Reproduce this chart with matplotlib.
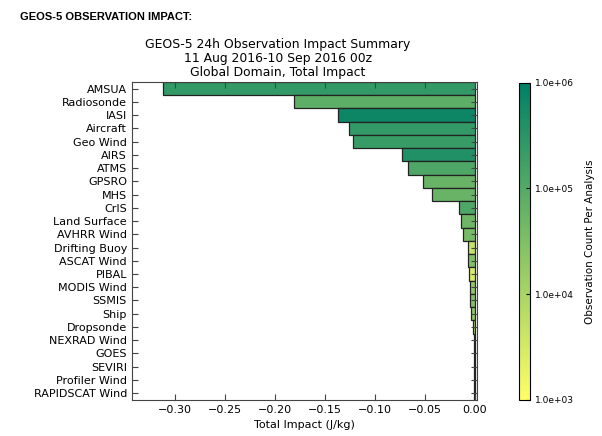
import numpy as np
import matplotlib
matplotlib.use("Agg")
import matplotlib.pyplot as plt
from matplotlib.colors import LogNorm

# observation types, top to bottom
obs_types = ['AMSUA', 'Radiosonde', 'IASI', 'Aircraft', 'Geo Wind', 'AIRS', 'ATMS',
             'GPSRO', 'MHS', 'CrIS', 'Land Surface', 'AVHRR Wind', 'Drifting Buoy',
             'ASCAT Wind', 'PIBAL', 'MODIS Wind', 'SSMIS', 'Ship', 'Dropsonde',
             'NEXRAD Wind', 'GOES', 'SEVIRI', 'Profiler Wind', 'RAPIDSCAT Wind']

# total impact (J/kg)
impact = [-0.312, -0.181, -0.137, -0.126, -0.122, -0.073, -0.067,
          -0.052, -0.043, -0.016, -0.014, -0.012, -0.007,
          -0.007, -0.006, -0.005, -0.0045, -0.004, -0.002,
          -0.001, -0.0008, -0.0006, -0.0005, -0.0003]

# observation count per analysis
counts = [2.5e5, 8e4, 7e5, 2.5e5, 2.2e5, 4e5, 1.2e5,
          6e4, 6e4, 1.2e5, 5e4, 4e4, 5e3,
          3e4, 3e3, 2e4, 3e4, 2e4, 1e4,
          5e3, 4e4, 3e4, 3e3, 2e3]

plt.rcParams['xtick.direction'] = 'in'
plt.rcParams['ytick.direction'] = 'in'

fig = plt.figure(figsize=(6.02, 4.36), dpi=100)
ax = fig.add_axes([0.219, 0.083, 0.573, 0.729])
cax = fig.add_axes([0.862, 0.083, 0.018, 0.727])

norm = LogNorm(vmin=1e3, vmax=1e6)
cmap = plt.get_cmap('summer_r')
y = np.arange(len(obs_types))
ax.barh(y, impact, height=1.0, color=cmap(norm(counts)), edgecolor='#222222', linewidth=0.9)

ax.set_ylim(len(obs_types) - 0.5, -0.5)
ax.set_xlim(-0.343, 0.002)
ax.set_xticks([-0.30, -0.25, -0.20, -0.15, -0.10, -0.05, 0.00])
ax.set_xticklabels(['\u22120.30', '\u22120.25', '\u22120.20', '\u22120.15', '\u22120.10', '\u22120.05', '0.00'])
ax.set_yticks(y)
ax.set_yticklabels(obs_types)
ax.tick_params(top=True, right=True, labelsize=8, length=4, color='#444444')
for s in ax.spines.values():
    s.set_color('#444444')
ax.set_xlabel('Total Impact (J/kg)', fontsize=8)
ax.set_title('GEOS-5 24h Observation Impact Summary\n11 Aug 2016-10 Sep 2016 00z\nGlobal Domain, Total Impact',
             fontsize=8.9, linespacing=1.1, pad=4, x=0.423)

sm = plt.cm.ScalarMappable(norm=norm, cmap=cmap)
cb = fig.colorbar(sm, cax=cax)
cb.set_ticks([1e3, 1e4, 1e5, 1e6])
cb.set_ticklabels(['1.0e+03', '1.0e+04', '1.0e+05', '1.0e+06'])
cb.ax.minorticks_off()
cb.ax.tick_params(labelsize=6.5, length=3)
cb.set_label('Observation Count Per Analysis', fontsize=7.5, labelpad=8)

fig.text(0.033, 0.962, 'GEOS-5 OBSERVATION IMPACT:', fontsize=8, fontweight='bold',
         family='Liberation Sans', va='center')

fig.savefig('out.png', dpi=100)
